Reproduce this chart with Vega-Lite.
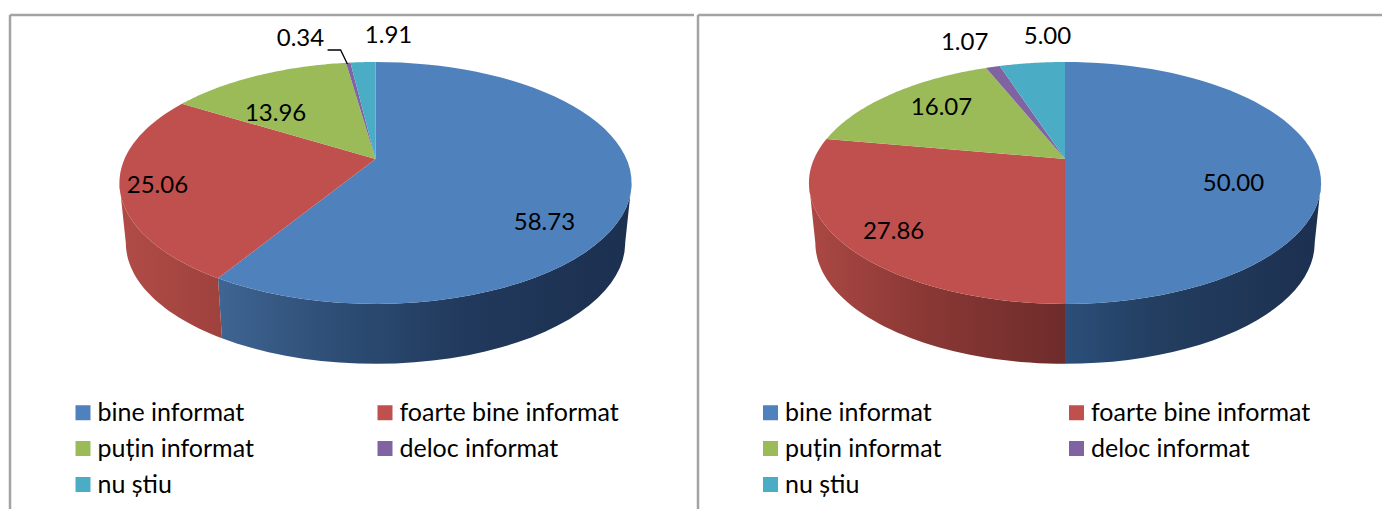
{"$schema":"https://vega.github.io/schema/vega-lite/v6.json","background":"white","padding":{"left":8,"top":13,"right":0,"bottom":0},"autosize":{"type":"pad"},"spacing":0,"config":{"view":{"stroke":null},"text":{"font":"Lato"}},
"data":{"values":[
{"panel":1,"category":"bine informat","order":1,"value":58.73},
{"panel":1,"category":"foarte bine informat","order":2,"value":25.06},
{"panel":1,"category":"puțin informat","order":3,"value":13.96},
{"panel":1,"category":"deloc informat","order":4,"value":0.34},
{"panel":1,"category":"nu știu","order":5,"value":1.91},
{"panel":2,"category":"bine informat","order":1,"value":50.00},
{"panel":2,"category":"foarte bine informat","order":2,"value":27.86},
{"panel":2,"category":"puțin informat","order":3,"value":16.07},
{"panel":2,"category":"deloc informat","order":4,"value":1.07},
{"panel":2,"category":"nu știu","order":5,"value":5.00}]},
"transform":[
{"window":[{"op":"sum","field":"value","as":"cumEnd"}],"groupby":["panel"],"sort":[{"field":"order"}],"frame":[null,0]},
{"calculate":"2*PI*(datum.cumEnd-datum.value)/100","as":"a0"},
{"calculate":"2*PI*datum.cumEnd/100","as":"a1"}],
"resolve":{"scale":{"fill":"independent"},"legend":{"fill":"independent"}},
"hconcat":[
{"width":684,"height":496,"transform":[{"filter":"datum.panel==1"}],"layer":[
{"transform":[{"filter":"datum.order==1"},{"calculate":"sequence(0,122)","as":"pts"},{"flatten":["pts"],"as":["i"]},{"calculate":"clamp(datum.a0+(datum.a1-datum.a0)*(datum.i<=60?datum.i:121-datum.i)/60,1.770,4.513)","as":"th"},{"calculate":"(datum.i<=60?1:0.975)*sin(datum.th)/(1+0.198*cos(datum.th))","as":"u"},{"calculate":"cos(datum.th)/(1+0.198*cos(datum.th))-(datum.i<=60?0:0.516)","as":"v"}],
"mark":{"type":"line","strokeWidth":0,"fill":{"gradient":"linear","x1":0,"y1":0,"x2":1,"y2":0,"stops":[{"offset":0,"color":"#3f6593"},{"offset":0.25,"color":"#2f5078"},{"offset":0.6,"color":"#21395c"},{"offset":1,"color":"#1c3050"}]}},
"encoding":{"x":{"field":"u","type":"quantitative","axis":null,"scale":{"domain":[-1.4562,1.2689]}},"y":{"field":"v","type":"quantitative","axis":null,"scale":{"domain":[-3.0293,1.2392]}},"order":{"field":"i","type":"quantitative"}}},
{"transform":[{"filter":"datum.order==2"},{"calculate":"sequence(0,122)","as":"pts"},{"flatten":["pts"],"as":["i"]},{"calculate":"clamp(datum.a0+(datum.a1-datum.a0)*(datum.i<=60?datum.i:121-datum.i)/60,1.770,4.513)","as":"th"},{"calculate":"(datum.i<=60?1:0.975)*sin(datum.th)/(1+0.198*cos(datum.th))","as":"u"},{"calculate":"cos(datum.th)/(1+0.198*cos(datum.th))-(datum.i<=60?0:0.516)","as":"v"}],
"mark":{"type":"line","strokeWidth":0,"fill":{"gradient":"linear","x1":0,"y1":0,"x2":1,"y2":0,"stops":[{"offset":0,"color":"#b04c47"},{"offset":1,"color":"#9f413d"}]}},
"encoding":{"x":{"field":"u","type":"quantitative","axis":null,"scale":{"domain":[-1.4562,1.2689]}},"y":{"field":"v","type":"quantitative","axis":null,"scale":{"domain":[-3.0293,1.2392]}},"order":{"field":"i","type":"quantitative"}}},
{"transform":[{"calculate":"sequence(-1,61)","as":"pts"},{"flatten":["pts"],"as":["i"]},{"calculate":"datum.a0+(datum.a1-datum.a0)*datum.i/60","as":"th"},{"calculate":"datum.i<0?0:sin(datum.th)/(1+0.198*cos(datum.th))","as":"u"},{"calculate":"datum.i<0?0:cos(datum.th)/(1+0.198*cos(datum.th))","as":"v"}],
"mark":{"type":"line","filled":true,"strokeWidth":0},
"encoding":{"x":{"field":"u","type":"quantitative","axis":null,"scale":{"domain":[-1.4562,1.2689]}},"y":{"field":"v","type":"quantitative","axis":null,"scale":{"domain":[-3.0293,1.2392]}},"order":{"field":"i","type":"quantitative"},
"fill":{"field":"category","type":"nominal","scale":{"domain":["bine informat","puțin informat","nu știu","foarte bine informat","deloc informat"],"range":["#4f81bd","#9bbb59","#4bacc6","#c0504d","#8064a2"]},"legend":{"title":null,"orient":"none","legendX":60.5,"legendY":385,"columns":2,"symbolType":"square","symbolSize":225,"symbolStrokeWidth":0,"labelFont":"Lato","labelFontSize":25,"labelColor":"#000000","labelOffset":2,"columnPadding":118,"rowPadding":10,"labelLimit":400}}}},
{"transform":[{"filter":"datum.order==4"},{"calculate":"[0,1,2]","as":"pts"},{"flatten":["pts"],"as":["i"]},{"calculate":"[-0.191,-0.139,-0.112][datum.i]","as":"u"},{"calculate":"[0.938,0.938,0.818][datum.i]","as":"v"}],
"mark":{"type":"line","stroke":"#000000","strokeWidth":1.3},
"encoding":{"x":{"field":"u","type":"quantitative","axis":null,"scale":{"domain":[-1.4562,1.2689]}},"y":{"field":"v","type":"quantitative","axis":null,"scale":{"domain":[-3.0293,1.2392]}},"order":{"field":"i","type":"quantitative"}}},
{"transform":[{"calculate":"[0.673,-0.869,-0.398,-0.299,0.052][datum.order-1]","as":"u"},{"calculate":"[-0.551,-0.232,0.387,1.033,1.059][datum.order-1]","as":"v"}],
"mark":{"type":"text","font":"Lato","fontSize":24,"color":"#000000","align":"center","baseline":"middle"},
"encoding":{"x":{"field":"u","type":"quantitative","axis":null,"scale":{"domain":[-1.4562,1.2689]}},"y":{"field":"v","type":"quantitative","axis":null,"scale":{"domain":[-3.0293,1.2392]}},"text":{"field":"value","type":"quantitative","format":".2f"}}},
{"data":{"values":[{}]},"mark":{"type":"rule","stroke":"#a3a3a3","strokeWidth":2.5},"encoding":{"y":{"datum":1.2392,"type":"quantitative","axis":null,"scale":{"domain":[-3.0293,1.2392]}}}},
{"data":{"values":[{}]},"mark":{"type":"rule","stroke":"#a3a3a3","strokeWidth":2.5},"encoding":{"x":{"datum":-1.4562,"type":"quantitative","axis":null,"scale":{"domain":[-1.4562,1.2689]}}}}
]},
{"width":684,"height":496,"transform":[{"filter":"datum.panel==2"}],"layer":[
{"transform":[{"filter":"datum.order==1"},{"calculate":"sequence(0,122)","as":"pts"},{"flatten":["pts"],"as":["i"]},{"calculate":"clamp(datum.a0+(datum.a1-datum.a0)*(datum.i<=60?datum.i:121-datum.i)/60,1.770,4.513)","as":"th"},{"calculate":"(datum.i<=60?1:0.975)*sin(datum.th)/(1+0.198*cos(datum.th))","as":"u"},{"calculate":"cos(datum.th)/(1+0.198*cos(datum.th))-(datum.i<=60?0:0.516)","as":"v"}],
"mark":{"type":"line","strokeWidth":0,"fill":{"gradient":"linear","x1":0,"y1":0,"x2":1,"y2":0,"stops":[{"offset":0,"color":"#2b4f7a"},{"offset":0.35,"color":"#233e60"},{"offset":1,"color":"#1c3050"}]}},
"encoding":{"x":{"field":"u","type":"quantitative","axis":null,"scale":{"domain":[-1.4622,1.2629]}},"y":{"field":"v","type":"quantitative","axis":null,"scale":{"domain":[-3.0293,1.2392]}},"order":{"field":"i","type":"quantitative"}}},
{"transform":[{"filter":"datum.order==2"},{"calculate":"sequence(0,122)","as":"pts"},{"flatten":["pts"],"as":["i"]},{"calculate":"clamp(datum.a0+(datum.a1-datum.a0)*(datum.i<=60?datum.i:121-datum.i)/60,1.770,4.513)","as":"th"},{"calculate":"(datum.i<=60?1:0.975)*sin(datum.th)/(1+0.198*cos(datum.th))","as":"u"},{"calculate":"cos(datum.th)/(1+0.198*cos(datum.th))-(datum.i<=60?0:0.516)","as":"v"}],
"mark":{"type":"line","strokeWidth":0,"fill":{"gradient":"linear","x1":0,"y1":0,"x2":1,"y2":0,"stops":[{"offset":0,"color":"#ab4844"},{"offset":0.45,"color":"#8a3835"},{"offset":1,"color":"#6e2c2b"}]}},
"encoding":{"x":{"field":"u","type":"quantitative","axis":null,"scale":{"domain":[-1.4622,1.2629]}},"y":{"field":"v","type":"quantitative","axis":null,"scale":{"domain":[-3.0293,1.2392]}},"order":{"field":"i","type":"quantitative"}}},
{"transform":[{"calculate":"sequence(-1,61)","as":"pts"},{"flatten":["pts"],"as":["i"]},{"calculate":"datum.a0+(datum.a1-datum.a0)*datum.i/60","as":"th"},{"calculate":"datum.i<0?0:sin(datum.th)/(1+0.198*cos(datum.th))","as":"u"},{"calculate":"datum.i<0?0:cos(datum.th)/(1+0.198*cos(datum.th))","as":"v"}],
"mark":{"type":"line","filled":true,"strokeWidth":0},
"encoding":{"x":{"field":"u","type":"quantitative","axis":null,"scale":{"domain":[-1.4622,1.2629]}},"y":{"field":"v","type":"quantitative","axis":null,"scale":{"domain":[-3.0293,1.2392]}},"order":{"field":"i","type":"quantitative"},
"fill":{"field":"category","type":"nominal","scale":{"domain":["bine informat","puțin informat","nu știu","foarte bine informat","deloc informat"],"range":["#4f81bd","#9bbb59","#4bacc6","#c0504d","#8064a2"]},"legend":{"title":null,"orient":"none","legendX":60,"legendY":385,"columns":2,"symbolType":"square","symbolSize":225,"symbolStrokeWidth":0,"labelFont":"Lato","labelFontSize":25,"labelColor":"#000000","labelOffset":2,"columnPadding":122,"rowPadding":10,"labelLimit":400}}}},
{"transform":[{"calculate":"[0.671,-0.683,-0.492,-0.400,-0.070][datum.order-1]","as":"u"},{"calculate":"[-0.215,-0.628,0.439,0.998,1.050][datum.order-1]","as":"v"}],
"mark":{"type":"text","font":"Lato","fontSize":24,"color":"#000000","align":"center","baseline":"middle"},
"encoding":{"x":{"field":"u","type":"quantitative","axis":null,"scale":{"domain":[-1.4622,1.2629]}},"y":{"field":"v","type":"quantitative","axis":null,"scale":{"domain":[-3.0293,1.2392]}},"text":{"field":"value","type":"quantitative","format":".2f"}}},
{"data":{"values":[{}]},"mark":{"type":"rule","stroke":"#a3a3a3","strokeWidth":2.5},"encoding":{"y":{"datum":1.2392,"type":"quantitative","axis":null,"scale":{"domain":[-3.0293,1.2392]}}}},
{"data":{"values":[{}]},"mark":{"type":"rule","stroke":"#a3a3a3","strokeWidth":2.5},"encoding":{"x":{"datum":-1.4622,"type":"quantitative","axis":null,"scale":{"domain":[-1.4622,1.2629]}}}}
]}
]}
